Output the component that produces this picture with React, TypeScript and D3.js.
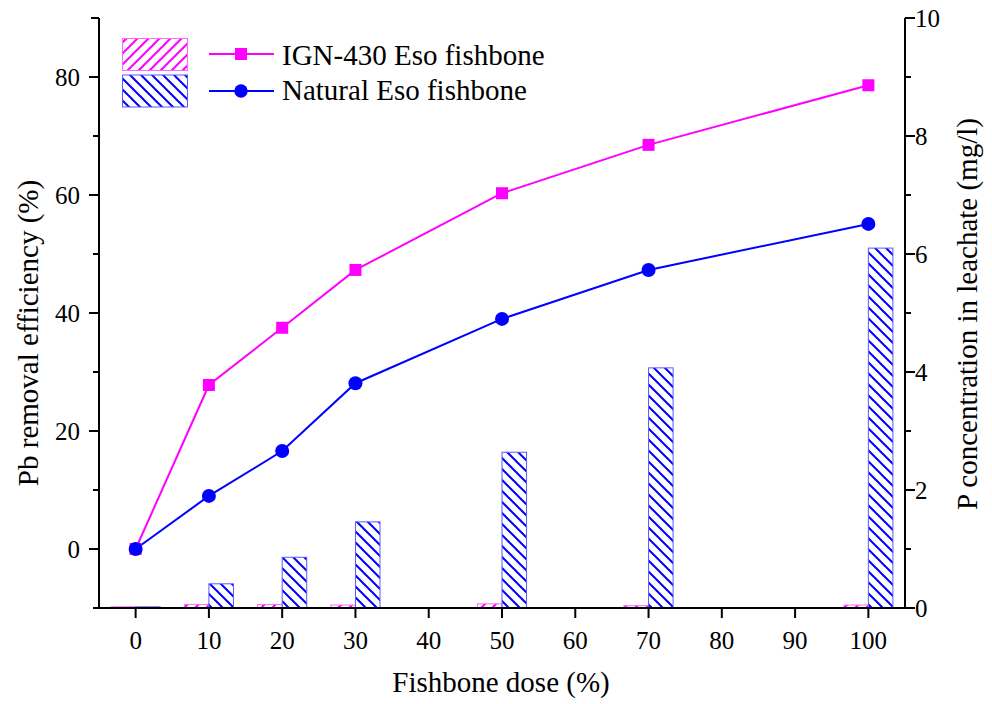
import React from "react";
import * as d3 from "d3";

// Fishbone dose (%) for each sample
const doses = [0, 10, 20, 30, 50, 70, 100];
// Pb removal efficiency (%)
const ignRemoval = [0, 27.8, 37.5, 47.3, 60.3, 68.5, 78.6];
const naturalRemoval = [0, 9.0, 16.6, 28.1, 39.0, 47.3, 55.1];
// P concentration in leachate (mg/l)
const ignP = [0.02, 0.06, 0.06, 0.05, 0.07, 0.04, 0.05];
const naturalP = [0.02, 0.41, 0.86, 1.46, 2.64, 4.07, 6.1];

const xTicks = [0, 10, 20, 30, 40, 50, 60, 70, 80, 90, 100];
const leftTicks = [0, 20, 40, 60, 80];
const leftMinor = [10, 30, 50, 70];
const rightTicks = [0, 2, 4, 6, 8, 10];
const rightMinor = [1, 3, 5, 7, 9];

const seriesNames = ["IGN-430 Eso fishbone", "Natural Eso fishbone"];

const W = 992;
const H = 704;
const L = 99;
const R = 905;
const T = 18;
const B = 608;
const MAGENTA = "#ff00ff";
const BLUE = "#0000ff";
const FONT = "'Liberation Serif', 'DejaVu Serif', serif";

export default function App() {
  const x = d3.scaleLinear().domain([-5, 105]).range([L, R]);
  const yL = d3.scaleLinear().domain([-10, 90]).range([B, T]);
  const yR = d3.scaleLinear().domain([0, 10]).range([B, T]);
  const barW = x(3.35) - x(0);

  const line = (vals: number[]) =>
    d3
      .line<number>()
      .x((_, i) => x(doses[i]))
      .y((v) => yL(v))(vals) as string;

  return (
    <svg
      width={W}
      height={H}
      style={{ position: "absolute", left: 0, top: 0, background: "#fff", fontFamily: FONT }}
    >
      <defs>
        <pattern id="hatchM" patternUnits="userSpaceOnUse" width={11} height={11}>
          <path d="M-1,12 L12,-1 M-3,3 L3,-3 M8,14 L14,8" stroke={MAGENTA} strokeWidth={2} />
        </pattern>
        <pattern id="hatchB" patternUnits="userSpaceOnUse" width={11} height={11}>
          <path d="M-1,-1 L12,12 M-3,8 L3,14 M8,-3 L14,3" stroke={BLUE} strokeWidth={2} />
        </pattern>
      </defs>

      {/* P concentration bars */}
      {doses.map((d, i) => (
        <g key={"b" + d}>
          <rect
            x={x(d) - barW}
            y={yR(ignP[i])}
            width={barW}
            height={yR(0) - yR(ignP[i])}
            fill="url(#hatchM)"
            stroke="#ff66ff"
            strokeWidth={1}
          />
          <rect
            x={x(d)}
            y={yR(naturalP[i])}
            width={barW}
            height={yR(0) - yR(naturalP[i])}
            fill="url(#hatchB)"
            stroke="#5a5aff"
            strokeWidth={1}
          />
        </g>
      ))}

      {/* Removal efficiency lines */}
      <path d={line(ignRemoval)} fill="none" stroke={MAGENTA} strokeWidth={2} />
      <path d={line(naturalRemoval)} fill="none" stroke={BLUE} strokeWidth={2} />
      {doses.map((d, i) => (
        <rect
          key={"m" + d}
          x={x(d) - 6}
          y={yL(ignRemoval[i]) - 6}
          width={12}
          height={12}
          fill={MAGENTA}
        />
      ))}
      {doses.map((d, i) => (
        <circle key={"c" + d} cx={x(d)} cy={yL(naturalRemoval[i])} r={7} fill={BLUE} />
      ))}

      {/* Axes */}
      <g stroke="#000" strokeWidth={2}>
        <line x1={L} y1={T} x2={L} y2={B + 1} />
        <line x1={R} y1={T} x2={R} y2={B + 1} />
        <line x1={L - 6} y1={B} x2={R} y2={B} />
        <line x1={L} y1={T} x2={L - 8} y2={T} />
        <line x1={R} y1={T} x2={R + 8} y2={T} />
        {xTicks.map((t) => (
          <line key={"xt" + t} x1={x(t)} y1={B} x2={x(t)} y2={B + 10} />
        ))}
        {leftTicks.map((t) => (
          <line key={"lt" + t} x1={L} y1={yL(t)} x2={L - 10} y2={yL(t)} />
        ))}
        {leftMinor.map((t) => (
          <line key={"lm" + t} x1={L} y1={yL(t)} x2={L - 6} y2={yL(t)} />
        ))}
        {rightTicks.map((t) => (
          <line key={"rt" + t} x1={R} y1={yR(t)} x2={R + 10} y2={yR(t)} />
        ))}
        {rightMinor.map((t) => (
          <line key={"rm" + t} x1={R} y1={yR(t)} x2={R + 6} y2={yR(t)} />
        ))}
      </g>

      <g fontSize={25} fill="#000">
        {xTicks.map((t) => (
          <text key={"xl" + t} x={x(t)} y={649} textAnchor="middle">
            {t}
          </text>
        ))}
        {leftTicks.map((t) => (
          <text key={"ll" + t} x={L - 19} y={yL(t) + 8.5} textAnchor="end">
            {t}
          </text>
        ))}
        {rightTicks.map((t) => (
          <text key={"rl" + t} x={R + 10} y={yR(t) + 8.5} textAnchor="start">
            {t}
          </text>
        ))}
      </g>

      <g fontSize={29} fill="#000">
        <text x={501} y={692} textAnchor="middle">
          Fishbone dose (%)
        </text>
        <text transform={`translate(38,333) rotate(-90)`} textAnchor="middle">
          Pb removal efficiency (%)
        </text>
        <text transform={`translate(977,314) rotate(-90)`} textAnchor="middle">
          P concentration in leachate (mg/l)
        </text>
      </g>

      {/* Legend */}
      <g>
        <rect x={122.5} y={38.5} width={65} height={32} fill="url(#hatchM)" stroke="#ff66ff" strokeWidth={1} />
        <rect x={122.5} y={75} width={65} height={32} fill="url(#hatchB)" stroke="#5a5aff" strokeWidth={1} />
        <line x1={209} y1={54} x2={274} y2={54} stroke={MAGENTA} strokeWidth={2} />
        <rect x={235} y={48} width={12} height={12} fill={MAGENTA} />
        <line x1={209} y1={91} x2={274} y2={91} stroke={BLUE} strokeWidth={2} />
        <circle cx={241} cy={91} r={6.7} fill={BLUE} />
        <text x={282} y={65} fontSize={29} fill="#000">
          {seriesNames[0]}
        </text>
        <text x={282} y={100} fontSize={29} fill="#000">
          {seriesNames[1]}
        </text>
      </g>
    </svg>
  );
}
